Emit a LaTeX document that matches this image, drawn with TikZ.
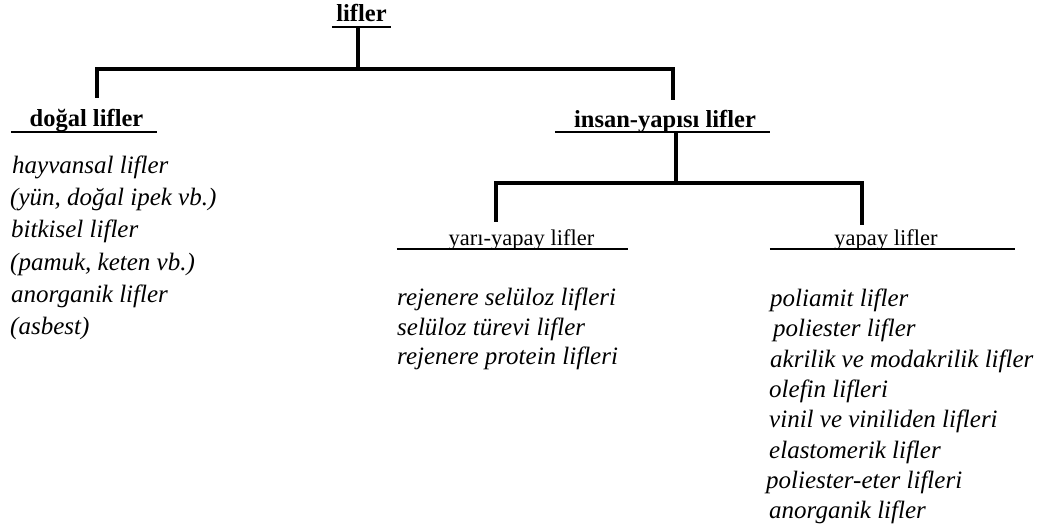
\documentclass[tikz,border=0pt]{standalone}
\usepackage{fontspec}
\setmainfont{Liberation Serif}
\begin{document}
\begin{tikzpicture}[x=1pt,y=-1pt,
  hbold/.style={font=\fontsize{24.5}{29}\selectfont\bfseries, inner sep=0pt, anchor=base},
  hreg/.style={font=\fontsize{22.5}{27}\selectfont, inner sep=0pt, anchor=base},
  item/.style={font=\fontsize{25}{30}\selectfont\itshape, inner sep=0pt, anchor=base west},
  conn/.style={line width=4pt},
  uline/.style={line width=2.2pt},
  ulthin/.style={line width=1.5pt}]
\useasboundingbox (0,0) rectangle (1056,532);

% headings
\node[hbold, minimum width=59pt, text depth=5pt, text height=17pt] (root) at (361.5,22) {lifler};
\node[hbold, minimum width=146pt, text depth=6pt, text height=28pt] (dogal) at (84,126) {\hspace*{5pt}doğal lifler};
\node[hbold, minimum width=215pt, text depth=5pt, text height=27pt] (insan) at (662.5,127) {\hspace*{5pt}insan-yapısı lifler};
\node[hreg, minimum width=231pt, text depth=4pt, text height=23pt] (yari) at (512.5,245) {\hspace*{18pt}yarı-yapay lifler};
\node[hreg, minimum width=245pt, text depth=4pt, text height=20pt] (yapay) at (892.5,245) {yapay lifler\hspace*{13pt}};

% underlines
\draw[uline] (root.south west) -- (root.south east);
\draw[uline] (dogal.south west) -- (dogal.south east);
\draw[uline] (insan.south west) -- (insan.south east);
\draw[ulthin] (yari.south west) -- (yari.south east);
\draw[ulthin] (yapay.south west) -- (yapay.south east);

% connectors
\draw[conn] ([xshift=-3.5pt]root.south) -- ++(0,42) coordinate (j1);
\draw[conn] ([xshift=13pt]dogal.north) |- (j1) -| ([xshift=10.5pt]insan.north);
\draw[conn] ([xshift=13.5pt]insan.south) -- ++(0,51) coordinate (j2);
\draw[conn] ([xshift=-16.5pt]yari.north) |- (j2) -| ([xshift=-30.5pt]yapay.north);

% left list
\node[item] (l1) at (12,173) {hayvansal lifler};
\node[item] (l2) at (10,205) {(yün, doğal ipek vb.)};
\node[item] (l3) at (11,237.5) {bitkisel lifler};
\node[item] (l4) at (10,270) {(pamuk, keten vb.)};
\node[item] (l5) at (11,302) {anorganik lifler};
\node[item] (l6) at (10,334) {(asbest)};

% middle list
\node[item] (m1) at (397,305) {rejenere selüloz lifleri};
\node[item] (m2) at (397,335) {selüloz türevi lifler};
\node[item] (m3) at (397,364) {rejenere protein lifleri};

% right list
\node[item] (r1) at (770,306) {poliamit lifler};
\node[item] (r2) at (773,336) {poliester lifler};
\node[item] (r3) at (770,367) {akrilik ve modakrilik lifler};
\node[item] (r4) at (769,397) {olefin lifleri};
\node[item] (r5) at (769,427) {vinil ve viniliden lifleri};
\node[item] (r6) at (769,458) {elastomerik lifler};
\node[item] (r7) at (766,488) {poliester-eter lifleri};
\node[item] (r8) at (769,518) {anorganik lifler};
\end{tikzpicture}
\end{document}
